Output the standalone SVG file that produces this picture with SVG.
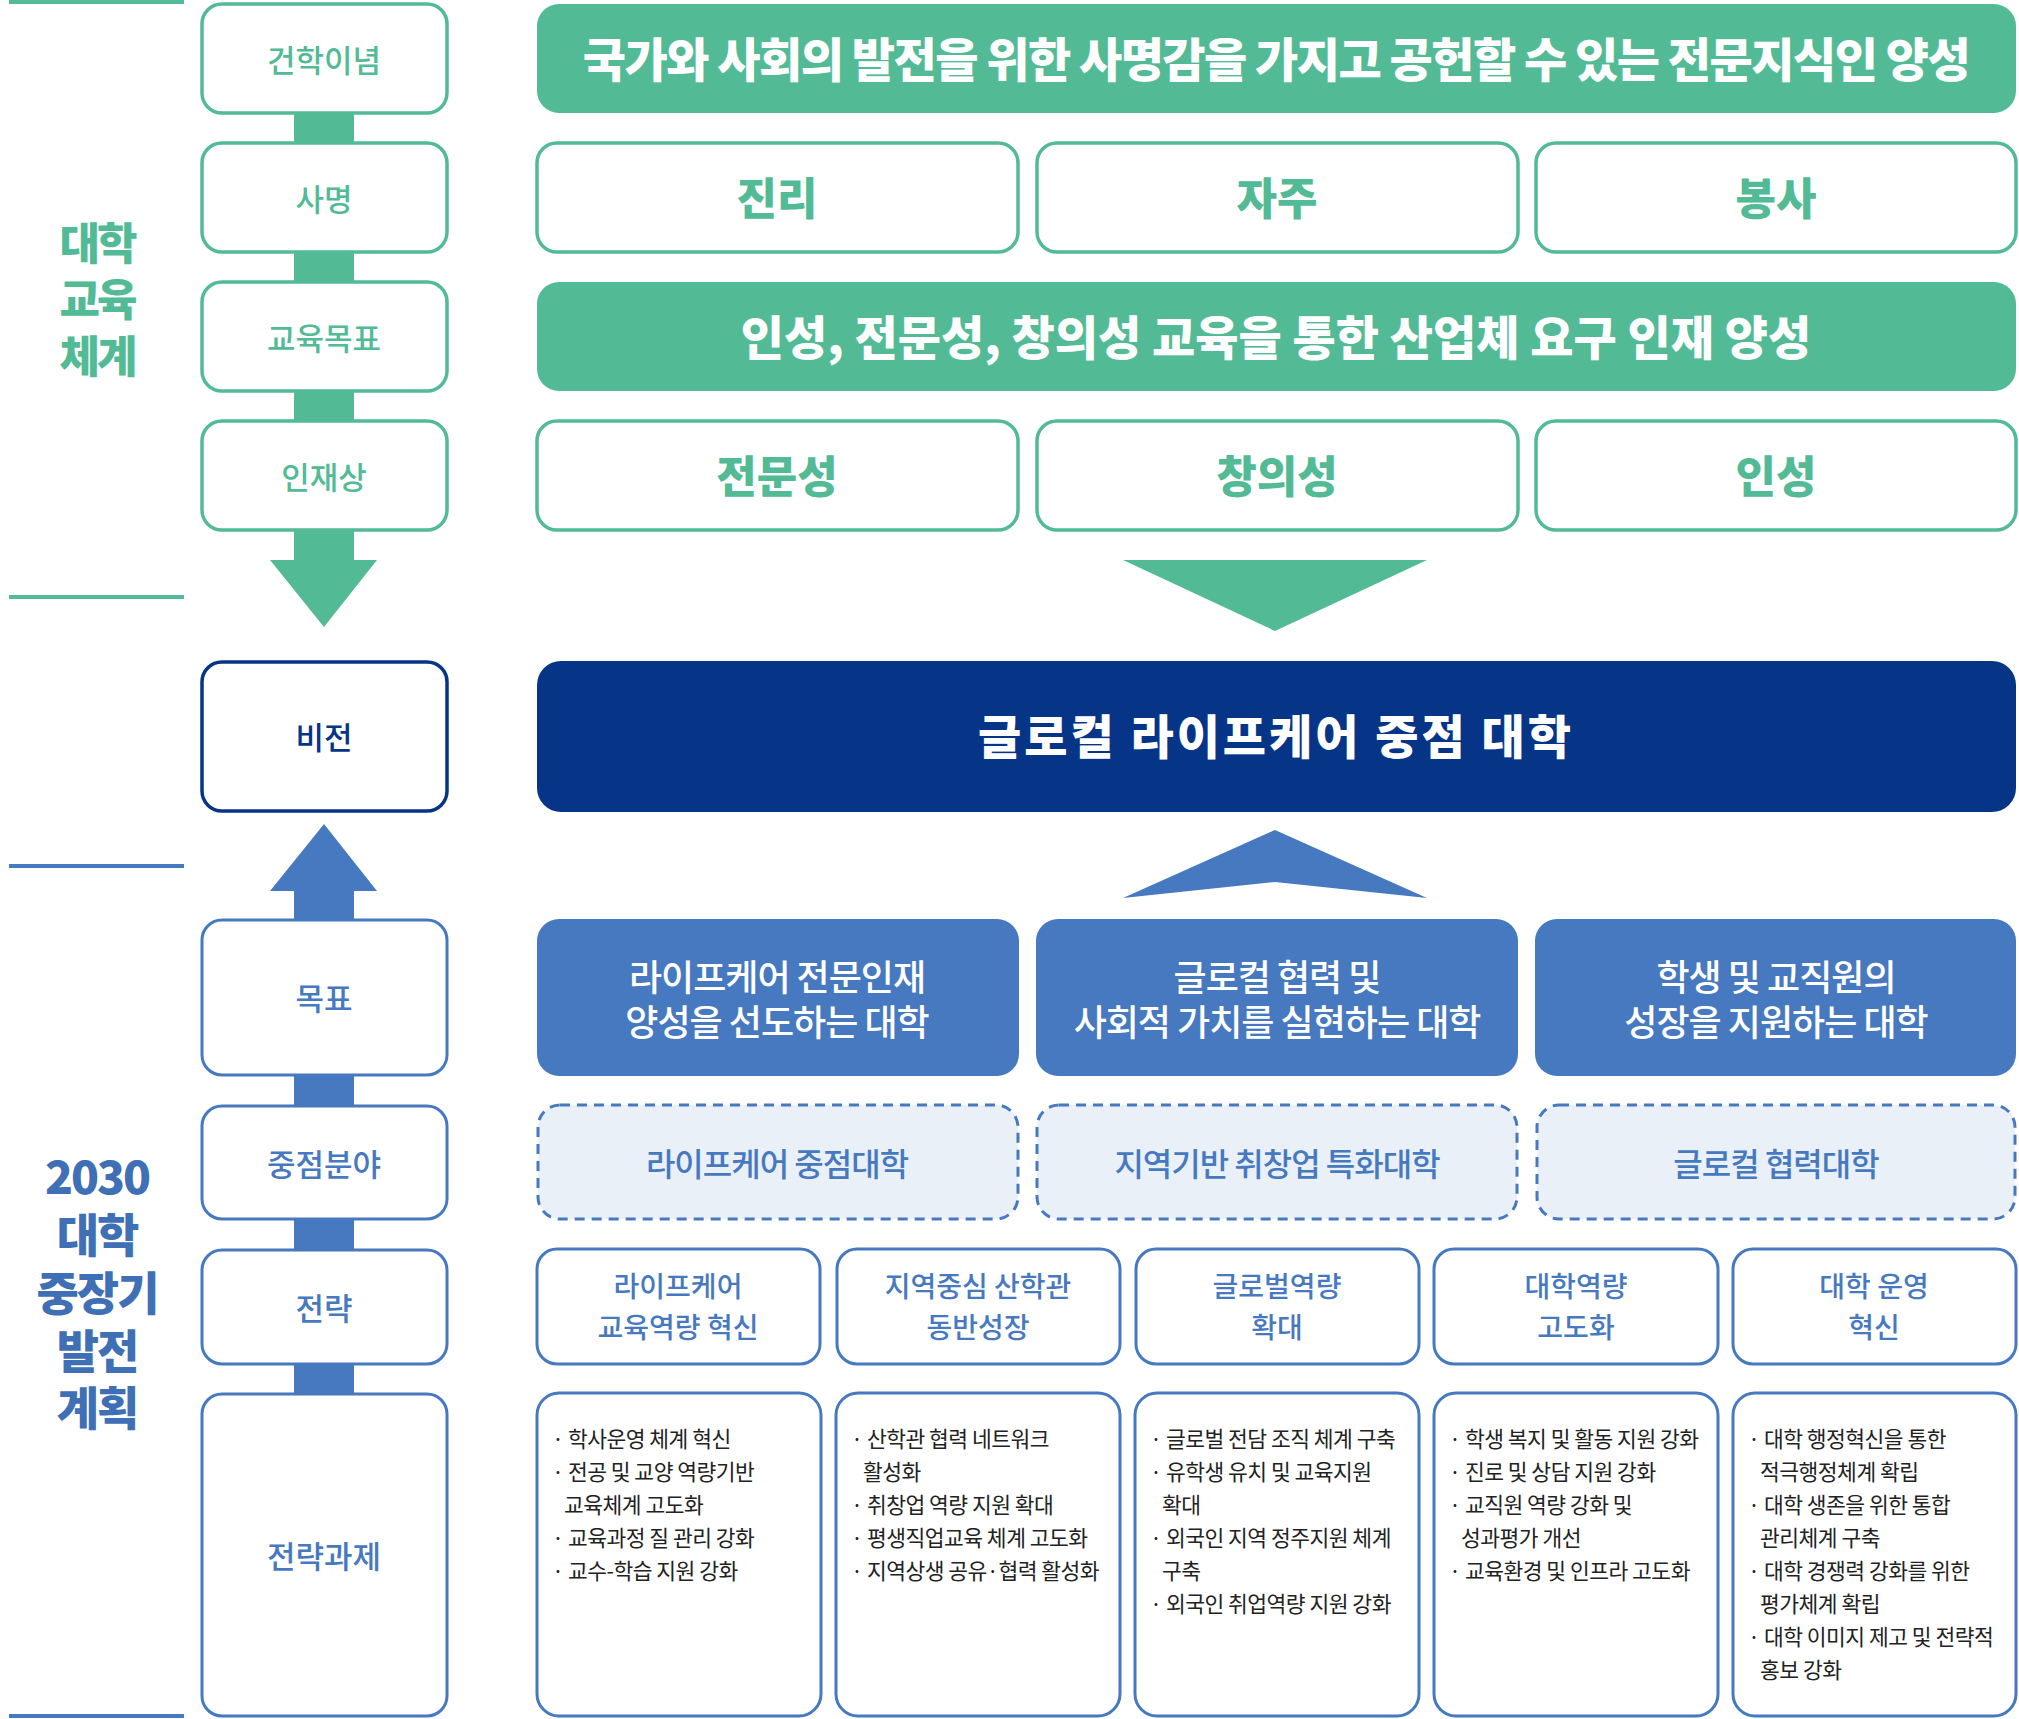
<svg xmlns="http://www.w3.org/2000/svg" width="2019" height="1719" viewBox="0 0 2019 1719">
<style>
text{font-family:"Noto Sans CJK KR","Noto Sans",sans-serif;text-anchor:middle;dominant-baseline:central}
.gb{fill:#fff;stroke:#52bb96;stroke-width:3.5}
.gf{fill:#52bb96}
.gt{fill:#52bb96;font-size:31px;font-weight:500}
.gh{fill:#52bb96;font-size:44px;font-weight:900}
.wh{fill:#fff;font-size:47px;font-weight:900}
.bb{fill:#fff;stroke:#4779c0;stroke-width:3}
.bt{fill:#4779c0;font-size:31px;font-weight:500}
.gw{fill:#fff;font-size:36px;font-weight:500;letter-spacing:-1px}
.dt{fill:#4779c0;font-size:32px;font-weight:500;letter-spacing:-1px}
.st{fill:#4779c0;font-size:28px;font-weight:500}
.tk{font-size:21.5px;fill:#222;text-anchor:start;dominant-baseline:auto;letter-spacing:-0.5px}
</style>
<g id="lines" stroke-width="4">
<line x1="9" y1="2" x2="184" y2="2" stroke="#52bb96"/>
<line x1="9" y1="597" x2="184" y2="597" stroke="#52bb96"/>
<line x1="9" y1="866" x2="184" y2="866" stroke="#4779c0"/>
<line x1="9" y1="1716" x2="184" y2="1716" stroke="#4779c0"/>
</g>
<g id="connectors">
<rect x="294" y="110" width="60" height="35" class="gf"/>
<rect x="294" y="250" width="60" height="35" class="gf"/>
<rect x="294" y="389" width="60" height="35" class="gf"/>
<polygon points="294,528 354,528 354,560 377,560 324,627 270,560 294,560" class="gf"/>
<polygon points="1123,560 1427,560 1275,631" class="gf"/>
<polygon points="294,921 354,921 354,891 377,891 324,824 270,891 294,891" fill="#4779c0"/>
<polygon points="1275,830 1427,898 1275,882 1123,898" fill="#4779c0"/>
<rect x="294" y="1073" width="60" height="34" fill="#4779c0"/>
<rect x="294" y="1217" width="60" height="34" fill="#4779c0"/>
<rect x="294" y="1362" width="60" height="33" fill="#4779c0"/>
</g>
<g id="label1" letter-spacing="-3"><text x="97" y="241" class="gh" font-size="54">대학</text><text x="97" y="297" class="gh" font-size="54">교육</text><text x="97" y="354" class="gh" font-size="54">체계</text></g>
<g id="label2" fill="#3f6fb5" font-weight="900" font-size="46" letter-spacing="-2"><text x="97" y="1174">2030</text><text x="97" y="1232">대학</text><text x="97" y="1290">중장기</text><text x="97" y="1348">발전</text><text x="97" y="1405">계획</text></g>
<g id="l1"><rect x="202" y="4" width="245" height="109" rx="20" class="gb"/><text x="324" y="58" class="gt">건학이념</text></g>
<g id="l2"><rect x="202" y="143" width="245" height="109" rx="20" class="gb"/><text x="324" y="197" class="gt">사명</text></g>
<g id="l3"><rect x="202" y="282" width="245" height="109" rx="20" class="gb"/><text x="324" y="336" class="gt">교육목표</text></g>
<g id="l4"><rect x="202" y="421" width="245" height="109" rx="20" class="gb"/><text x="324" y="475" class="gt">인재상</text></g>
<g id="r1"><rect x="537" y="4" width="1479" height="109" rx="22" class="gf"/><text x="1276" y="56" class="wh" font-size="45" letter-spacing="-1.5">국가와 사회의 발전을 위한 사명감을 가지고 공헌할 수 있는 전문지식인 양성</text></g>
<g id="r2a"><rect x="537" y="143" width="481" height="109" rx="20" class="gb"/><text x="777" y="196" class="gh">진리</text></g>
<g id="r2b"><rect x="1037" y="143" width="481" height="109" rx="20" class="gb"/><text x="1277" y="196" class="gh">자주</text></g>
<g id="r2c"><rect x="1536" y="143" width="480" height="109" rx="20" class="gb"/><text x="1776" y="196" class="gh">봉사</text></g>
<g id="r3"><rect x="537" y="282" width="1479" height="109" rx="22" class="gf"/><text x="1276" y="334" class="wh" font-size="51">인성, 전문성, 창의성 교육을 통한 산업체 요구 인재 양성</text></g>
<g id="r4a"><rect x="537" y="421" width="481" height="109" rx="20" class="gb"/><text x="777" y="474" class="gh">전문성</text></g>
<g id="r4b"><rect x="1037" y="421" width="481" height="109" rx="20" class="gb"/><text x="1277" y="474" class="gh">창의성</text></g>
<g id="r4c"><rect x="1536" y="421" width="480" height="109" rx="20" class="gb"/><text x="1776" y="474" class="gh">인성</text></g>
<g id="vl"><rect x="202" y="662" width="245" height="149" rx="20" fill="#fff" stroke="#063487" stroke-width="3.5"/><text x="324" y="735" fill="#063487" font-size="31" font-weight="500">비전</text></g>
<g id="vision"><rect x="537" y="661" width="1479" height="151" rx="24" fill="#063487"/><text x="1276" y="733" class="wh" font-size="80" letter-spacing="3">글로컬 라이프케어 중점 대학</text></g>
<g id="lg"><rect x="202" y="920" width="245" height="155" rx="20" class="bb"/><text x="324" y="996" class="bt">목표</text></g>
<g id="lf"><rect x="202" y="1106" width="245" height="113" rx="20" class="bb"/><text x="324" y="1162" class="bt">중점분야</text></g>
<g id="ls"><rect x="202" y="1250" width="245" height="114" rx="20" class="bb"/><text x="324" y="1306" class="bt">전략</text></g>
<g id="lt"><rect x="202" y="1394" width="245" height="322" rx="20" class="bb"/><text x="324" y="1554" class="bt">전략과제</text></g>
<g id="g1"><rect x="537" y="919" width="482" height="157" rx="22" fill="#4779c0"/><text x="777" y="975" class="gw">라이프케어 전문인재</text><text x="777" y="1020" class="gw">양성을 선도하는 대학</text></g>
<g id="g2"><rect x="1036" y="919" width="482" height="157" rx="22" fill="#4779c0"/><text x="1277" y="975" class="gw">글로컬 협력 및</text><text x="1277" y="1020" class="gw">사회적 가치를 실현하는 대학</text></g>
<g id="g3"><rect x="1535" y="919" width="481" height="157" rx="22" fill="#4779c0"/><text x="1776" y="975" class="gw">학생 및 교직원의</text><text x="1776" y="1020" class="gw">성장을 지원하는 대학</text></g>
<g id="f1"><rect x="538" y="1105" width="480" height="114" rx="22" fill="#eaf0f8" stroke="#4779c0" stroke-width="3" stroke-dasharray="10,7"/><text x="777" y="1162" class="dt">라이프케어 중점대학</text></g>
<g id="f2"><rect x="1037" y="1105" width="480" height="114" rx="22" fill="#eaf0f8" stroke="#4779c0" stroke-width="3" stroke-dasharray="10,7"/><text x="1277" y="1162" class="dt">지역기반 취창업 특화대학</text></g>
<g id="f3"><rect x="1537" y="1105" width="478" height="114" rx="22" fill="#eaf0f8" stroke="#4779c0" stroke-width="3" stroke-dasharray="10,7"/><text x="1776" y="1162" class="dt">글로컬 협력대학</text></g>
<g id="s1"><rect x="537" y="1249" width="283" height="115" rx="20" class="bb"/><text x="678" y="1285" class="st">라이프케어</text><text x="678" y="1326" class="st">교육역량 혁신</text></g>
<g id="s2"><rect x="837" y="1249" width="283" height="115" rx="20" class="bb"/><text x="978" y="1285" class="st">지역중심 산학관</text><text x="978" y="1326" class="st">동반성장</text></g>
<g id="s3"><rect x="1136" y="1249" width="283" height="115" rx="20" class="bb"/><text x="1277" y="1285" class="st">글로벌역량</text><text x="1277" y="1326" class="st">확대</text></g>
<g id="s4"><rect x="1434" y="1249" width="284" height="115" rx="20" class="bb"/><text x="1576" y="1285" class="st">대학역량</text><text x="1576" y="1326" class="st">고도화</text></g>
<g id="s5"><rect x="1733" y="1249" width="283" height="115" rx="20" class="bb"/><text x="1874" y="1285" class="st">대학 운영</text><text x="1874" y="1326" class="st">혁신</text></g>
<g id="t1"><rect x="537" y="1393" width="284" height="323" rx="22" class="bb"/>
<text class="tk"><tspan x="552" y="1447">· 학사운영 체계 혁신</tspan><tspan x="552" y="1480">· 전공 및 교양 역량기반</tspan><tspan x="564" y="1513">교육체계 고도화</tspan><tspan x="552" y="1546">· 교육과정 질 관리 강화</tspan><tspan x="552" y="1579">· 교수-학습 지원 강화</tspan></text></g>
<g id="t2"><rect x="836" y="1393" width="284" height="323" rx="22" class="bb"/>
<text class="tk"><tspan x="851" y="1447">· 산학관 협력 네트워크</tspan><tspan x="863" y="1480">활성화</tspan><tspan x="851" y="1513">· 취창업 역량 지원 확대</tspan><tspan x="851" y="1546">· 평생직업교육 체계 고도화</tspan><tspan x="851" y="1579">· 지역상생 공유·협력 활성화</tspan></text></g>
<g id="t3"><rect x="1135" y="1393" width="284" height="323" rx="22" class="bb"/>
<text class="tk"><tspan x="1150" y="1447">· 글로벌 전담 조직 체계 구축</tspan><tspan x="1150" y="1480">· 유학생 유치 및 교육지원</tspan><tspan x="1162" y="1513">확대</tspan><tspan x="1150" y="1546">· 외국인 지역 정주지원 체계</tspan><tspan x="1162" y="1579">구축</tspan><tspan x="1150" y="1612">· 외국인 취업역량 지원 강화</tspan></text></g>
<g id="t4"><rect x="1434" y="1393" width="284" height="323" rx="22" class="bb"/>
<text class="tk"><tspan x="1449" y="1447">· 학생 복지 및 활동 지원 강화</tspan><tspan x="1449" y="1480">· 진로 및 상담 지원 강화</tspan><tspan x="1449" y="1513">· 교직원 역량 강화 및</tspan><tspan x="1461" y="1546">성과평가 개선</tspan><tspan x="1449" y="1579">· 교육환경 및 인프라 고도화</tspan></text></g>
<g id="t5"><rect x="1733" y="1393" width="283" height="323" rx="22" class="bb"/>
<text class="tk"><tspan x="1748" y="1447">· 대학 행정혁신을 통한</tspan><tspan x="1760" y="1480">적극행정체계 확립</tspan><tspan x="1748" y="1513">· 대학 생존을 위한 통합</tspan><tspan x="1760" y="1546">관리체계 구축</tspan><tspan x="1748" y="1579">· 대학 경쟁력 강화를 위한</tspan><tspan x="1760" y="1612">평가체계 확립</tspan><tspan x="1748" y="1645">· 대학 이미지 제고 및 전략적</tspan><tspan x="1760" y="1678">홍보 강화</tspan></text></g>
</svg>
